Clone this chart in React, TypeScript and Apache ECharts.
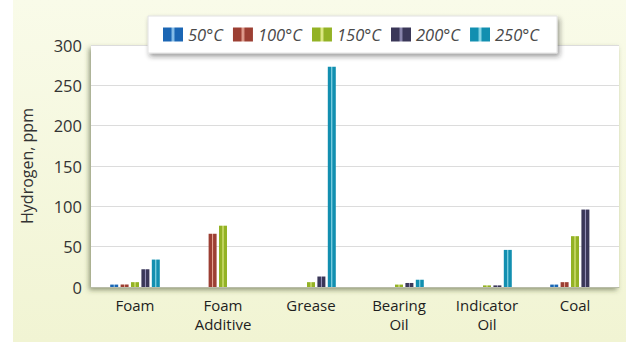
import React, { useEffect, useRef } from "react";
import * as echarts from "echarts";

const categories = ["Foam", "Foam\nAdditive", "Grease", "Bearing\nOil", "Indicator\nOil", "Coal"];
const seriesNames = ["50°C", "100°C", "150°C", "200°C", "250°C"];
const t50 = [3, 0, 0, 0, 0, 3];
const t100 = [3, 66, 0, 0, 0, 6];
const t150 = [6, 76, 6, 3, 2, 63];
const t200 = [22, 0, 13, 5, 2, 96];
const t250 = [34, 0, 273, 9, 46, 0];
const yTicks = { min: 0, max: 300, interval: 50 };

const palette = [
  ["#1b66b4", "#9fd2f4"],
  ["#9c3f33", "#eeb0a0"],
  ["#93b225", "#eef59a"],
  ["#3a3758", "#9c98c0"],
  ["#128fb0", "#a4e6f2"],
];

function grad(dark: string, light: string) {
  return new echarts.graphic.LinearGradient(0, 0, 1, 0, [
    { offset: 0, color: dark },
    { offset: 0.38, color: dark },
    { offset: 0.5, color: light },
    { offset: 0.62, color: dark },
    { offset: 1, color: dark },
  ]);
}

export default function App() {
  const ref = useRef<HTMLDivElement>(null);
  useEffect(() => {
    document.body.style.margin = "0";
    const chart = echarts.init(ref.current!, null, { renderer: "svg" });
    const data = [t50, t100, t150, t200, t250];
    const font = "'Open Sans', 'Noto Sans', sans-serif";
    chart.setOption({
      animation: false,
      backgroundColor: "transparent",
      textStyle: { fontFamily: font },
      grid: {
        left: 91,
        right: 7,
        top: 45,
        bottom: 55,
        show: true,
        backgroundColor: "#ffffff",
        borderWidth: 0,
        shadowColor: "rgba(60,75,40,0.55)",
        shadowBlur: 5,
        shadowOffsetX: -2,
        shadowOffsetY: 3,
      },
      legend: {
        data: seriesNames,
        icon: "rect",
        left: 148,
        top: 16,
        padding: [10, 18, 10, 15],
        itemWidth: 20,
        itemHeight: 14,
        itemGap: 10,
        backgroundColor: "#ffffff",
        borderColor: "#e2e2e2",
        borderWidth: 1,
        shadowColor: "rgba(40,40,40,0.45)",
        shadowBlur: 5,
        shadowOffsetX: 2,
        shadowOffsetY: 3,
        textStyle: {
          fontFamily: font,
          fontStyle: "italic",
          fontSize: 16.5,
          color: "#4a4a4a",
          padding: [0, 0, 0, 0],
        },
      },
      xAxis: {
        type: "category",
        data: categories,
        axisLine: { show: true, lineStyle: { color: "#b8bca8", width: 1 } },
        axisTick: { show: false },
        axisLabel: {
          fontSize: 15,
          color: "#1e1e1e",
          lineHeight: 19,
          margin: 8,
          interval: 0,
        },
      },
      yAxis: {
        type: "value",
        min: yTicks.min,
        max: yTicks.max,
        interval: yTicks.interval,
        name: "Hydrogen, ppm",
        nameLocation: "middle",
        nameGap: 56,
        nameTextStyle: { fontSize: 16, color: "#333" },
        axisLine: { show: false },
        axisTick: { show: false },
        axisLabel: { fontSize: 16.5, color: "#333", margin: 9 },
        splitLine: { lineStyle: { color: "#dcdcdc", width: 1 } },
      },
      series: seriesNames.map((name, i) => ({
        name,
        type: "bar",
        data: data[i],
        barWidth: 8,
        barGap: "30%",
        itemStyle: { color: grad(palette[i][0], palette[i][1]) },
      })),
    });
    return () => chart.dispose();
  }, []);
  return (
    <div
      ref={ref}
      style={{
        width: 626,
        height: 342,
        background:
          "linear-gradient(to right, #ffffff 0px, #ffffff 13px, transparent 13px), linear-gradient(#f9fbe9, #f1f4d3)",
      }}
    />
  );
}
